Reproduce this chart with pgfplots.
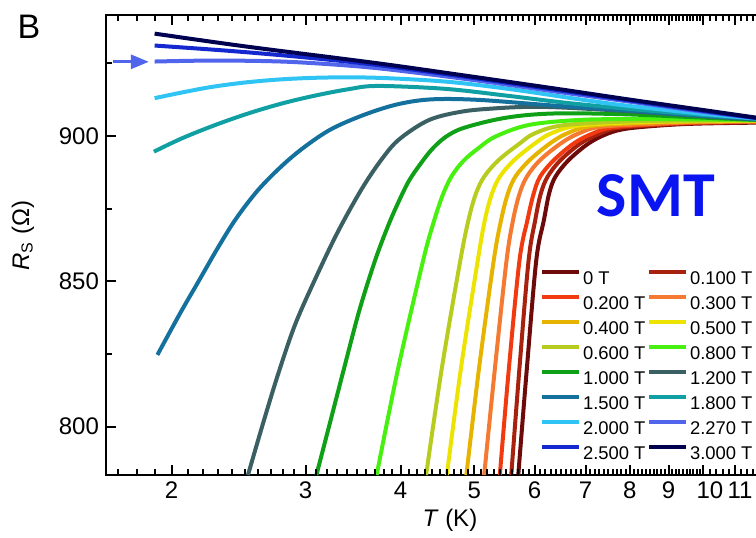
\documentclass[border=0pt]{standalone}
\usepackage{fontspec}
\setmainfont{Liberation Sans}
\newfontfamily\smtfont{Carlito}
\usepackage{pgfplots}
\pgfplotsset{compat=1.18}
\usetikzlibrary{arrows.meta}

\definecolor{c00}{HTML}{6E0A0A}
\definecolor{c01}{HTML}{A8200E}
\definecolor{c02}{HTML}{F23A10}
\definecolor{c03}{HTML}{F37A30}
\definecolor{c04}{HTML}{E6B400}
\definecolor{c05}{HTML}{ECE400}
\definecolor{c06}{HTML}{B8CC20}
\definecolor{c08}{HTML}{48F010}
\definecolor{c10}{HTML}{10A018}
\definecolor{c12}{HTML}{3A6064}
\definecolor{c15}{HTML}{14709C}
\definecolor{c18}{HTML}{10A0A4}
\definecolor{c20}{HTML}{30C4F4}
\definecolor{c227}{HTML}{5064EC}
\definecolor{c25}{HTML}{1428D0}
\definecolor{c30}{HTML}{000050}
\definecolor{smtblue}{HTML}{0A14F0}

\tikzset{curve/.style={line width=2pt, smooth, tension=0.55},
  tk/.style={black, line width=1pt}}

\begin{document}
\begin{tikzpicture}
% the page stops at 325pt: the right spine of the axis lies just beyond it
\path[use as bounding box] (-53pt,-31pt) rectangle (325pt,237.5pt);
\begin{axis}[
  at={(0pt,0pt)}, anchor=south west,
  scale only axis, width=327pt, height=230pt,
  xmode=log, xmin=1.64, xmax=11.866,
  ymin=783.4, ymax=941.6,
  axis line style={line width=1pt},
  tick align=inside,
  xtick pos=both, ytick pos=left,
  major tick length=5pt, minor tick length=3pt,
  every tick/.style={black, line width=1pt},
  xtick={2,3,4,5,6,7,8,9,10,11},
  xticklabels={2,3,4,5,6,7,8,9,{\hspace{6.5pt}10},{\hspace{5pt}11}},
  ytick={800,850,900},
  yticklabels={800,850,900},
  tick label style={font=\fontsize{12}{14}\selectfont},
  xlabel={\textit{T} (K)},
  ylabel={\textit{R}\textsubscript{S} (Ω)},
  xlabel style={font=\fontsize{12}{14}\selectfont, at={(axis description cs:0.5258,-0.098)}, anchor=center},
  ylabel style={font=\fontsize{12}{14}\selectfont, at={(axis description cs:-0.1272,0.52)}, anchor=center},
  legend columns=2,
  legend cell align=left,
  legend image code/.code={\draw[#1] (0pt,3.3pt) -- (18.3pt,3.3pt);},
  legend style={draw=none, fill=none, at={(axis description cs:0.6545,0.4546)},
    anchor=north west, font=\fontsize{9.2}{11}\selectfont,
    nodes={inner xsep=1pt, inner ysep=0pt, text height=7pt, text depth=1pt},
    row sep=4.15pt,
    /tikz/every even column/.append style={column sep=0pt}},
]
% 0 T
\addplot[curve, c00] coordinates {(5.71,783.4) (5.86,820) (6.03,857.3) (6.17,871) (6.27,880.3) (6.39,886) (6.65,891.7) (7.07,897.5) (7.5,900.9) (7.97,902.6) (9,903.8) (10,904.3) (11.87,904.6)};
\addlegendentry{0 T}
% 0.1 T
\addplot[curve, c01] coordinates {(5.59,783.4) (5.73,820) (5.89,857) (6.01,871) (6.11,880) (6.24,886) (6.49,891.7) (6.90,897.5) (7.32,900.9) (7.75,902.8) (9,904) (10,904.5) (11.87,904.8)};
\addlegendentry{0.100 T}
% 0.2 T
\addplot[curve, c02] coordinates {(5.40,783.4) (5.55,820) (5.73,857) (5.87,871) (5.98,880) (6.10,886) (6.36,891.7) (6.76,897.5) (7.16,900.9) (7.63,903) (9,904.2) (10,904.6) (11.87,904.9)};
\addlegendentry{0.200 T}
% 0.3 T
\addplot[curve, c03] coordinates {(5.15,783.4) (5.32,820) (5.51,857) (5.62,871) (5.73,880) (5.86,886) (6.10,891.7) (6.50,897.5) (6.86,900.9) (7.36,903.2) (9,904.4) (10,904.8) (11.87,905)};
\addlegendentry{0.300 T}
% 0.4 T
\addplot[curve, c04] coordinates {(4.88,783.4) (5.07,820) (5.30,857) (5.42,871) (5.53,880) (5.66,886) (5.91,891.7) (6.29,897.5) (6.62,900.9) (7.15,903.5) (8.5,904.6) (10,905) (11.87,905.1)};
\addlegendentry{0.400 T}
% 0.5 T
\addplot[curve, c05] coordinates {(4.60,783.4) (4.80,820) (5.05,857) (5.16,871) (5.27,880) (5.40,886) (5.64,891.7) (6.01,897.5) (6.31,900.9) (6.86,903.6) (8.3,904.8) (10,905.1) (11.87,905.2)};
\addlegendentry{0.500 T}
% 0.6 T
\addplot[curve, c06] coordinates {(4.32,783.4) (4.53,820) (4.79,857) (4.91,871) (5.02,880) (5.15,886) (5.38,891.7) (5.74,897.5) (6.0,900.9) (6.55,903.7) (8,905) (10,905.3) (11.87,905.3)};
\addlegendentry{0.600 T}
% 0.8 T
\addplot[curve, c08] coordinates {(3.72,783.4) (3.97,820) (4.28,857) (4.41,869.5) (4.54,879.5) (4.67,886.3) (4.84,891.5) (5.05,895.6) (5.33,899.8) (5.9,903.8) (6.86,905.5) (8,905.8) (10,905.7) (11.87,905.5)};
\addlegendentry{0.800 T}
% 1.0 T
\addplot[curve, c10] coordinates {(3.10,783.4) (3.22,800) (3.37,820) (3.53,840) (3.70,857) (3.85,869) (3.97,877) (4.10,884.5) (4.25,890.5) (4.40,895.5) (4.58,899.6) (4.82,902.6) (5.33,905.6) (5.87,907.2) (6.6,907.8) (8,907.4) (10,906.3) (11.87,905.5)};
\addlegendentry{1.000 T}
% 1.2 T
\addplot[curve, c12] coordinates {(2.52,783.4) (2.64,801.5) (2.76,818) (2.9,834.5) (3.06,848.5) (3.3,866.5) (3.56,882) (3.79,892.5) (3.99,899) (4.36,905.5) (4.82,908.4) (5.33,909.5) (5.87,910) (6.5,909.8) (8,908.5) (10,906.8) (11.87,905.6)};
\addlegendentry{1.200 T}
% 1.5 T
\addplot[curve, c15] coordinates {(1.916,824.7) (2.05,838.8) (2.17,850) (2.30,861.5) (2.43,871.5) (2.6,881.5) (2.8,890) (3.0,896.5) (3.25,902.5) (3.6,907.5) (3.98,911) (4.4,912.6) (5.07,912.4) (6.4,910.4) (8,908.7) (10,906.9) (11.87,905.7)};
\addlegendentry{1.500 T}
% 1.8 T
\addplot[curve, c18] coordinates {(1.896,894.6) (2.064,899.2) (2.284,903.8) (2.526,907.8) (2.795,911.2) (3.09,913.9) (3.42,916.1) (3.73,917.2) (4.58,916.2) (5.54,913.8) (6.6,911.4) (8,909.3) (10,907.2) (11.87,905.9)};
\addlegendentry{1.800 T}
% 2.0 T
\addplot[curve, c20] coordinates {(1.90,913) (2.05,914.8) (2.25,916.8) (2.5,918.4) (2.8,919.5) (3.2,920.1) (3.73,920) (4.58,918.7) (5.54,916.2) (7,912.3) (8,910.3) (10,907.6) (11.87,905.9)};
\addlegendentry{2.000 T}
% 2.27 T
\addplot[curve, c227] coordinates {(1.90,925.6) (2.2,925.9) (2.6,925.8) (3.0,925.2) (3.73,923.3) (5,919.2) (6.5,915) (8,911.8) (10,908.3) (11.87,906)};
\addlegendentry{2.270 T}
% 2.5 T
\addplot[curve, c25] coordinates {(1.90,931.1) (2.4,929.2) (3.0,927) (3.73,924.4) (5,919.9) (6.5,915.6) (8,912.2) (10,908.6) (11.87,906)};
\addlegendentry{2.500 T}
% 3.0 T
\addplot[curve, c30] coordinates {(1.90,935.2) (2.5,930.8) (3.73,925) (5,920.3) (6.5,916) (8,912.5) (10,908.9) (11.87,906.1)};
\addlegendentry{3.000 T}

% tick marks, drawn on the axis lines
\pgfplotsinvokeforeach{2,3,4,5,6,7,8,9,10,11}{
  \draw[tk] (axis cs:#1,783.4) -- ++(0pt,5pt);
  \draw[tk] (axis cs:#1,941.6) -- ++(0pt,-5pt);
}
\pgfplotsinvokeforeach{1.7,1.8,1.9,2.1,2.2,2.3,2.4,2.5,2.6,2.7,2.8,2.9,
    3.1,3.2,3.3,3.4,3.5,3.6,3.7,3.8,3.9,4.1,4.2,4.3,4.4,4.5,4.6,4.7,4.8,4.9,
    5.1,5.2,5.3,5.4,5.5,5.6,5.7,5.8,5.9,6.1,6.2,6.3,6.4,6.5,6.6,6.7,6.8,6.9,
    7.1,7.2,7.3,7.4,7.5,7.6,7.7,7.8,7.9,8.1,8.2,8.3,8.4,8.5,8.6,8.7,8.8,8.9,
    9.1,9.2,9.3,9.4,9.5,9.6,9.7,9.8,9.9,10.2,10.4,10.6,10.8,11.2,11.4,11.6}{
  \draw[tk] (axis cs:#1,783.4) -- ++(0pt,3pt);
  \draw[tk] (axis cs:#1,941.6) -- ++(0pt,-3pt);
}
\pgfplotsinvokeforeach{800,850,900}{
  \draw[tk] (axis cs:1.64,#1) -- ++(5pt,0pt);
}
\pgfplotsinvokeforeach{825,875,925}{
  \draw[tk] (axis cs:1.64,#1) -- ++(3pt,0pt);
}

\draw[c227, line width=1.5pt, -{Triangle[length=9pt, width=7pt]}]
  (axis cs:1.675,925.5) -- (axis cs:1.867,925.5);
\node[text=smtblue, font=\smtfont\bfseries\fontsize{32}{36}\selectfont]
  at (axis cs:8.66,879.4) {SMT};
\end{axis}
\node[font=\fontsize{17}{20}\selectfont] at (-38.5pt,224pt) {B};
\end{tikzpicture}
\end{document}
